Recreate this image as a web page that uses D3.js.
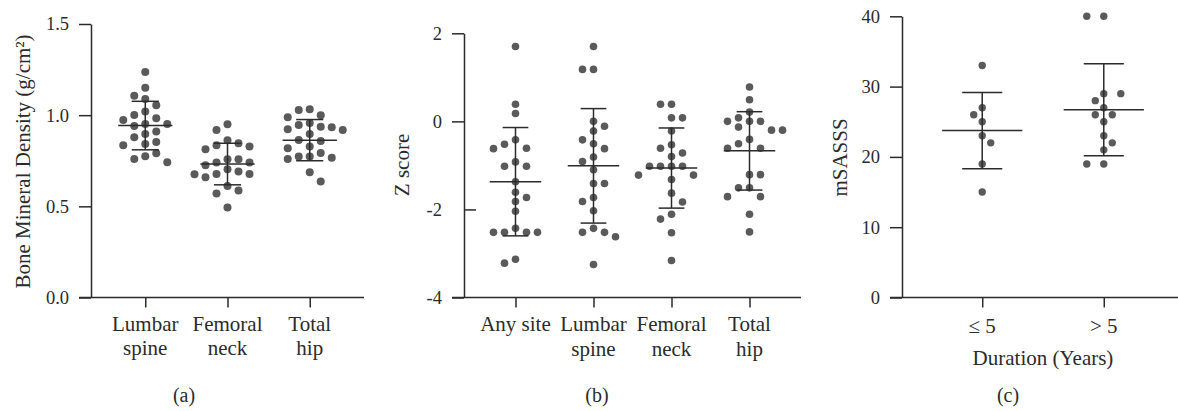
<!DOCTYPE html>
<html>
<head>
<meta charset="utf-8">
<script src="https://cdn.jsdelivr.net/npm/d3@7"></script>
<style>
  body { margin: 0; background: #fff; }
  text { font-family: "Liberation Serif", "Times New Roman", serif; fill: #2b2b2b; }
</style>
</head>
<body>
<script>
// ---- data ----
const bmdCats = [["Lumbar", "spine"], ["Femoral", "neck"], ["Total", "hip"]];
const bmdLumbar = [1.237, 1.151, 1.107, 1.088, 1.054, 1.020, 1.001, 0.983, 0.974, 0.952, 0.952, 0.941, 0.910, 0.897, 0.879, 0.853, 0.842, 0.835, 0.791, 0.775, 0.760, 0.742];
const bmdFemoral = [0.950, 0.919, 0.862, 0.846, 0.835, 0.828, 0.813, 0.758, 0.758, 0.740, 0.740, 0.725, 0.703, 0.691, 0.678, 0.678, 0.676, 0.660, 0.612, 0.587, 0.570, 0.493];
const bmdHip = [1.032, 1.029, 0.999, 0.988, 0.957, 0.946, 0.937, 0.934, 0.923, 0.919, 0.897, 0.864, 0.859, 0.828, 0.819, 0.793, 0.773, 0.773, 0.766, 0.760, 0.687, 0.636];
const bmdMean = [0.943, 0.732, 0.863];
const bmdSd = [0.133, 0.114, 0.113];
const bmdTicks = [0, 0.5, 1.0, 1.5];

const zCats = [["Any site"], ["Lumbar", "spine"], ["Femoral", "neck"], ["Total", "hip"]];
const zAny = [1.70, 0.39, 0.18, -0.42, -0.52, -0.61, -0.62, -0.92, -1.02, -1.02, -1.37, -1.61, -1.73, -1.82, -2.04, -2.43, -2.52, -2.52, -2.52, -2.52, -3.13, -3.22];
const zLumbar = [1.70, 1.18, 1.18, 0, -0.11, -0.22, -0.42, -0.51, -0.62, -0.81, -0.91, -1.10, -1.41, -1.41, -1.73, -1.82, -2.03, -2.43, -2.52, -2.52, -2.62, -3.25];
const zFemoral = [0.39, 0.39, 0.08, 0.08, -0.22, -0.53, -0.61, -0.72, -0.80, -1.02, -1.02, -1.02, -1.02, -1.22, -1.22, -1.32, -1.63, -1.83, -2.11, -2.22, -2.53, -3.16];
const zHip = [0.78, 0.49, 0.21, 0.08, 0, 0, 0, -0.13, -0.20, -0.20, -0.41, -0.51, -0.61, -0.61, -1.21, -1.21, -1.51, -1.51, -1.71, -1.71, -2.11, -2.51];
const zMean = [-1.37, -1.01, -1.06, -0.67];
const zSd = [1.23, 1.30, 0.91, 0.89];
const zTicks = [-4, -2, 0, 2];

const durCats = [["\u2264 5"], ["> 5"]];
const durLe5 = [33, 27, 26, 25, 23, 22, 19, 15];
const durGt5 = [40, 40, 29, 29, 28, 27, 26, 26, 25, 23, 22, 21, 19, 19];
const durMean = [23.75, 26.71];
const durSd = [5.42, 6.54];
const durTicks = [0, 10, 20, 30, 40];

// ---- drawing ----
const svg = d3.select("body").append("svg")
  .attr("width", 1178)
  .attr("height", 411);

const ink = "#2b2b2b";
const dotColor = "#5a5a5a";
const plain = d => String(d);   // keeps the hyphen "-2" as in the figure

function swarm(vals, y, step, minD) {
  const pts = vals.map(v => ({v: v, py: y(v)})).sort((a, b) => a.py - b.py);
  const placed = [];
  let bal = 0;
  pts.forEach(p => {
    for (let k = 0; k < 30; k++) {
      const cands = k === 0 ? [0] : (bal < 0 ? [k, -k] : [-k, k]);
      let hit = null;
      for (const c of cands) {
        const px = c * step;
        if (placed.every(q => Math.hypot(q.dx - px, q.py - p.py) >= minD)) { hit = px; break; }
      }
      if (hit !== null) { p.dx = hit; bal += Math.sign(hit); placed.push(p); break; }
    }
  });
  return placed;
}

function drawPanel(o) {
  const g = svg.append("g");
  const y = d3.scaleLinear().domain(o.domain).range([297.5, o.yTop]);
  const x = d3.scalePoint().domain(d3.range(o.cats.length)).range([o.x0, o.x1]).padding(0.66);
  const step = x.step();

  // y axis
  const ya = g.append("g")
    .attr("transform", `translate(${o.x0},0)`)
    .call(d3.axisLeft(y).tickValues(o.ticks).tickFormat(o.fmt).tickSize(12).tickSizeOuter(0).tickPadding(10));
  ya.select(".domain").attr("stroke", ink).attr("stroke-width", 1.5);
  ya.selectAll(".tick line").attr("stroke", ink).attr("stroke-width", 1.5);
  ya.selectAll(".tick text").style("font-size", "18.5px").attr("fill", ink);
  if (o.flipTick !== undefined) {
    ya.selectAll(".tick").filter(d => d === o.flipTick).select("line").attr("x2", 12);
  }

  // x axis
  const xa = g.append("g")
    .attr("transform", "translate(0,297.5)")
    .call(d3.axisBottom(x).tickSize(10).tickSizeOuter(0).tickFormat(""));
  xa.select(".domain").remove();
  xa.selectAll(".tick line").attr("stroke", ink).attr("stroke-width", 1.5);
  g.append("line")
    .attr("x1", o.x0 - 12).attr("x2", o.x1)
    .attr("y1", 297.5).attr("y2", 297.5)
    .attr("stroke", ink).attr("stroke-width", 1.5);

  // category labels
  o.cats.forEach((lines, i) => {
    const t = g.append("text")
      .attr("x", x(i)).attr("y", o.catY)
      .attr("text-anchor", "middle")
      .style("font-size", "21px");
    lines.forEach((s, j) => {
      t.append("tspan").attr("x", x(i)).attr("dy", j === 0 ? 0 : 24.5).text(s);
    });
  });

  // dots
  o.groups.forEach((vals, i) => {
    const pts = swarm(vals, y, o.dotStep, o.minD);
    g.selectAll(null).data(pts).enter().append("circle")
      .attr("cx", d => x(i) + d.dx)
      .attr("cy", d => d.py)
      .attr("r", o.r)
      .attr("fill", dotColor);
  });

  // mean and SD
  o.means.forEach((m, i) => {
    const cx = x(i), sd = o.sds[i];
    const hw = step * 0.33, cw = step * 0.165;
    g.append("line").attr("x1", cx).attr("x2", cx).attr("y1", y(m + sd)).attr("y2", y(m - sd))
      .attr("stroke", ink).attr("stroke-width", 1.5);
    g.append("line").attr("x1", cx - hw).attr("x2", cx + hw).attr("y1", y(m)).attr("y2", y(m))
      .attr("stroke", ink).attr("stroke-width", 1.5);
    [m + sd, m - sd].forEach(v => {
      g.append("line").attr("x1", cx - cw).attr("x2", cx + cw).attr("y1", y(v)).attr("y2", y(v))
        .attr("stroke", ink).attr("stroke-width", 1.5);
    });
  });

  // titles
  g.append("text")
    .attr("transform", `translate(${o.titleX},${o.titleY}) rotate(-90)`)
    .attr("text-anchor", "middle")
    .style("font-size", "21px")
    .text(o.yTitle);
  if (o.xTitle) {
    g.append("text").attr("x", (x(0) + x(o.cats.length - 1)) / 2).attr("y", 365)
      .attr("text-anchor", "middle").style("font-size", "21px").text(o.xTitle);
  }
  g.append("text").attr("x", o.letterX).attr("y", 402)
    .attr("text-anchor", "middle").style("font-size", "20px").text(o.letter);
}

drawPanel({
  cats: bmdCats, groups: [bmdLumbar, bmdFemoral, bmdHip], means: bmdMean, sds: bmdSd,
  domain: [0, 1.5], yTop: 24, ticks: bmdTicks, fmt: d3.format(".1f"),
  x0: 91, x1: 364, catY: 330.5, r: 4, dotStep: 11, minD: 10,
  yTitle: "Bone Mineral Density (g/cm\u00b2)", titleX: 30, titleY: 161.5,
  letter: "(a)", letterX: 184
});

drawPanel({
  cats: zCats, groups: [zAny, zLumbar, zFemoral, zHip], means: zMean, sds: zSd,
  domain: [-4, 2], yTop: 33.3, ticks: zTicks, fmt: plain, flipTick: -2,
  x0: 464, x1: 801, catY: 331, r: 3.8, dotStep: 11, minD: 9.2,
  yTitle: "Z score", titleX: 409, titleY: 165,
  letter: "(b)", letterX: 597
});

drawPanel({
  cats: durCats, groups: [durLe5, durGt5], means: durMean, sds: durSd,
  domain: [0, 40], yTop: 16.3, ticks: durTicks, fmt: plain,
  x0: 902, x1: 1184, catY: 333, r: 3.7, dotStep: 8.5, minD: 8.6,
  yTitle: "mSASSS", titleX: 847, titleY: 157.5,
  xTitle: "Duration (Years)",
  letter: "(c)", letterX: 1008
});
</script>
</body>
</html>
